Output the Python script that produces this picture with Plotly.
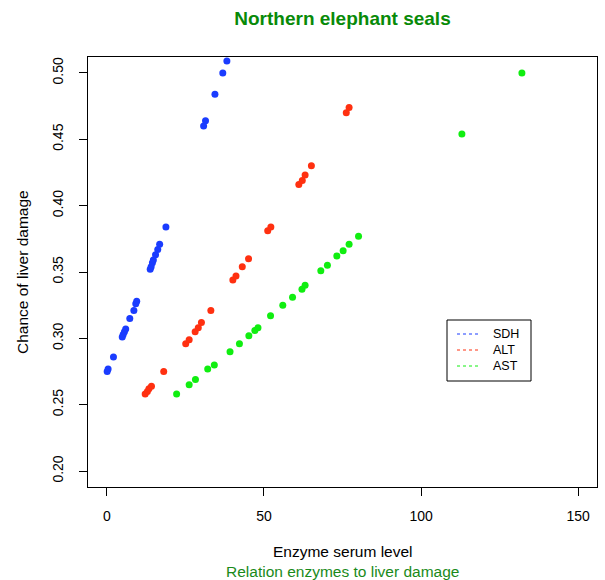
import plotly.graph_objects as go

# ---- data ----
series_names = ["SDH", "ALT", "AST"]

sdh_x = [0.1, 0.4, 2.1, 4.9, 5.2, 5.6, 6.0, 7.3, 8.6, 9.2, 9.5, 13.8, 14.1, 14.5,
         14.8, 15.5, 16.2, 16.8, 18.8, 30.8, 31.4, 34.4, 36.9, 38.2]
sdh_y = [0.275, 0.277, 0.286, 0.301, 0.303, 0.305, 0.307, 0.315, 0.321, 0.326, 0.328,
         0.352, 0.354, 0.357, 0.359, 0.363, 0.367, 0.371, 0.384, 0.460, 0.464, 0.484,
         0.500, 0.509]

alt_x = [12.2, 12.9, 13.4, 14.2, 18.1, 25.1, 26.2, 28.1, 29.1, 30.1, 33.1, 40.1, 41.1,
         43.1, 45.1, 51.2, 52.2, 61.1, 62.2, 63.1, 65.1, 76.2, 77.1]
alt_y = [0.258, 0.260, 0.262, 0.264, 0.275, 0.296, 0.299, 0.305, 0.308, 0.312, 0.321,
         0.344, 0.347, 0.354, 0.360, 0.381, 0.384, 0.416, 0.419, 0.423, 0.430, 0.470,
         0.474]

ast_x = [22.2, 26.2, 28.2, 32.1, 34.2, 39.2, 42.2, 45.2, 47.1, 48.1, 52.1, 56.0, 59.1,
         62.1, 63.1, 68.1, 70.2, 73.2, 75.2, 77.1, 80.1, 113.0, 132.1]
ast_y = [0.258, 0.265, 0.269, 0.277, 0.280, 0.290, 0.296, 0.302, 0.306, 0.308, 0.317,
         0.325, 0.331, 0.337, 0.340, 0.351, 0.355, 0.362, 0.366, 0.371, 0.377, 0.454,
         0.500]

x_ticks = [0, 50, 100, 150]
y_ticks = [0.20, 0.25, 0.30, 0.35, 0.40, 0.45, 0.50]
y_tick_labels = ["0.20", "0.25", "0.30", "0.35", "0.40", "0.45", "0.50"]

# ---- styling ----
colors = ["#1a3cff", "#ff3010", "#10ee10"]
FONT = "Liberation Sans, Arial, sans-serif"
W, H = 605, 580
L, R, T, B = 88, 597, 57, 487


def px(xp):
    return (xp - L) / (R - L)


def py(yp):
    return (B - yp) / (B - T)


fig = go.Figure()
for name, xs, ys, col in zip(series_names, [sdh_x, alt_x, ast_x],
                             [sdh_y, alt_y, ast_y], colors):
    fig.add_trace(go.Scatter(x=xs, y=ys, mode="markers", name=name,
                             marker=dict(color=col, size=7, line=dict(width=0)),
                             showlegend=False))

fig.update_layout(
    width=W, height=H,
    margin=dict(l=L, r=W - R, t=T, b=H - B),
    plot_bgcolor="white", paper_bgcolor="white",
    font=dict(family=FONT, color="black"),
    showlegend=False,
    title=dict(text="<b>Northern elephant seals</b>", x=0.5, xref="paper",
               xanchor="center", y=1 - 18 / H, yref="container", yanchor="middle",
               font=dict(size=19, color="#088a08", family=FONT)),
)

fig.update_xaxes(range=[-6, 156], tickvals=x_ticks, ticks="outside", ticklen=8,
                 tickcolor="black", showline=True, mirror=True, linecolor="black",
                 linewidth=1, showgrid=False, zeroline=False,
                 tickfont=dict(size=14, color="black"), ticklabelstandoff=8)
fig.update_yaxes(range=[0.188, 0.512], tickvals=y_ticks, ticktext=y_tick_labels,
                 ticks="outside", ticklen=8, tickcolor="black", showline=True,
                 mirror=True, linecolor="black", linewidth=1, showgrid=False,
                 zeroline=False, tickangle=-90,
                 tickfont=dict(size=14, color="black"), ticklabelstandoff=10)

annotations = [
    dict(text="Enzyme serum level", x=0.5, y=py(551), xref="paper", yref="paper",
         xanchor="center", yanchor="middle", showarrow=False,
         font=dict(size=15.5, color="black", family=FONT)),
    dict(text="Relation enzymes to liver damage", x=0.5, y=py(571), xref="paper",
         yref="paper", xanchor="center", yanchor="middle", showarrow=False,
         font=dict(size=15.5, color="#1a8a1a", family=FONT)),
    dict(text="Chance of liver damage", x=px(22), y=0.5, xref="paper", yref="paper",
         xanchor="center", yanchor="middle", textangle=-90, showarrow=False,
         font=dict(size=15.5, color="black", family=FONT)),
]

# legend box drawn manually (R style)
shapes = [dict(type="rect", xref="paper", yref="paper", x0=px(447), x1=px(531),
               y0=py(381), y1=py(320), line=dict(color="black", width=1),
               fillcolor="white", layer="above")]
rows = [334, 350, 366]
for name, col, ry in zip(series_names, colors, rows):
    shapes.append(dict(type="line", xref="paper", yref="paper", x0=px(457),
                       x1=px(481), y0=py(ry), y1=py(ry),
                       line=dict(color=col, width=1, dash="dot"), layer="above"))
    annotations.append(dict(text=name, x=px(491), y=py(ry), xref="paper",
                            yref="paper", xanchor="left", yanchor="middle",
                            showarrow=False,
                            font=dict(size=12.5, color="black", family=FONT)))

fig.update_layout(shapes=shapes, annotations=annotations)
fig.write_html("out.html")
